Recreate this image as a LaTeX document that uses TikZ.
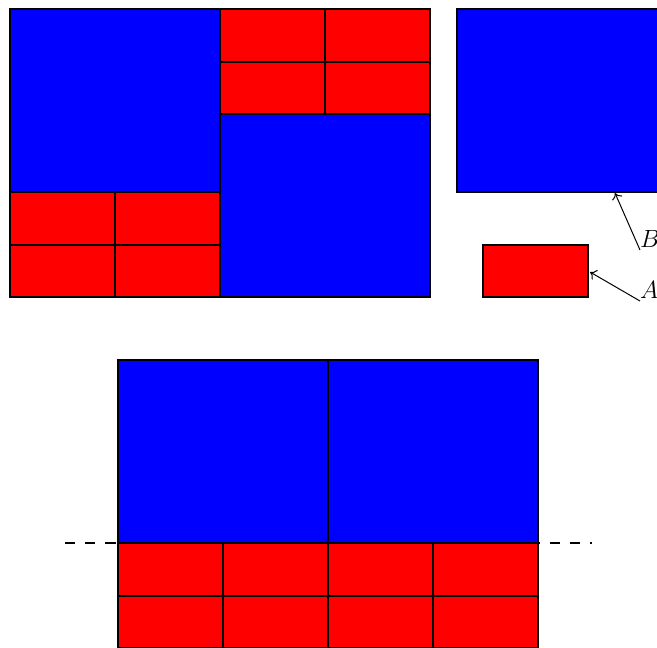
\documentclass[tikz,border=0pt]{standalone}
\usetikzlibrary{arrows.meta}
\begin{document}
\begin{tikzpicture}[x=1pt,y=-1pt,
  cell/.style={draw=black,line width=2pt},
  bluebox/.style={cell,fill=blue},
  redbox/.style={cell,fill=red},
  lbl/.style={inner sep=0pt,font=\fontsize{28}{32}\selectfont},
  pointer/.style={-{To[length=6pt,width=11pt]},line width=1pt}]
\useasboundingbox (0,0) rectangle (657,648);
% dashed guide line behind the bottom group
\draw[line width=2pt,dash pattern=on 10.1pt off 10.1pt] (65,543) -- (592,543);
% top-left group
\draw[bluebox] (10,9) rectangle (220,192);
\foreach \i in {0,1}{\foreach \j in {0,1}{
  \draw[redbox] ({10+105*\i},{192+52.5*\j}) rectangle ({115+105*\i},{244.5+52.5*\j});}}
\foreach \i in {0,1}{\foreach \j in {0,1}{
  \draw[redbox] ({220+105*\i},{9+52.5*\j}) rectangle ({325+105*\i},{61.5+52.5*\j});}}
\draw[bluebox] (220,114) rectangle (430,297);
% legend shapes
\draw[bluebox] (457,9) rectangle (667,192);
\draw[redbox] (483,245) rectangle (588,297);
\coordinate (btip) at (615,193);
\coordinate (atip) at (590,272);
\node[lbl,anchor=south west] (B) at (640,248) {$B$};
\node[lbl,anchor=south west] (A) at (640,299) {$A$};
\draw[pointer] ([yshift=-2pt]B.south west) -- (btip);
\draw[pointer] ([yshift=-2pt]A.south west) -- (atip);
% bottom group
\draw[bluebox] (118,360) rectangle (328,543);
\draw[bluebox] (328,360) rectangle (538,543);
\foreach \i in {0,1,2,3}{\foreach \j in {0,1}{
  \draw[redbox] ({118+105*\i},{543+52.5*\j}) rectangle ({223+105*\i},{595.5+52.5*\j});}}
\end{tikzpicture}
\end{document}
